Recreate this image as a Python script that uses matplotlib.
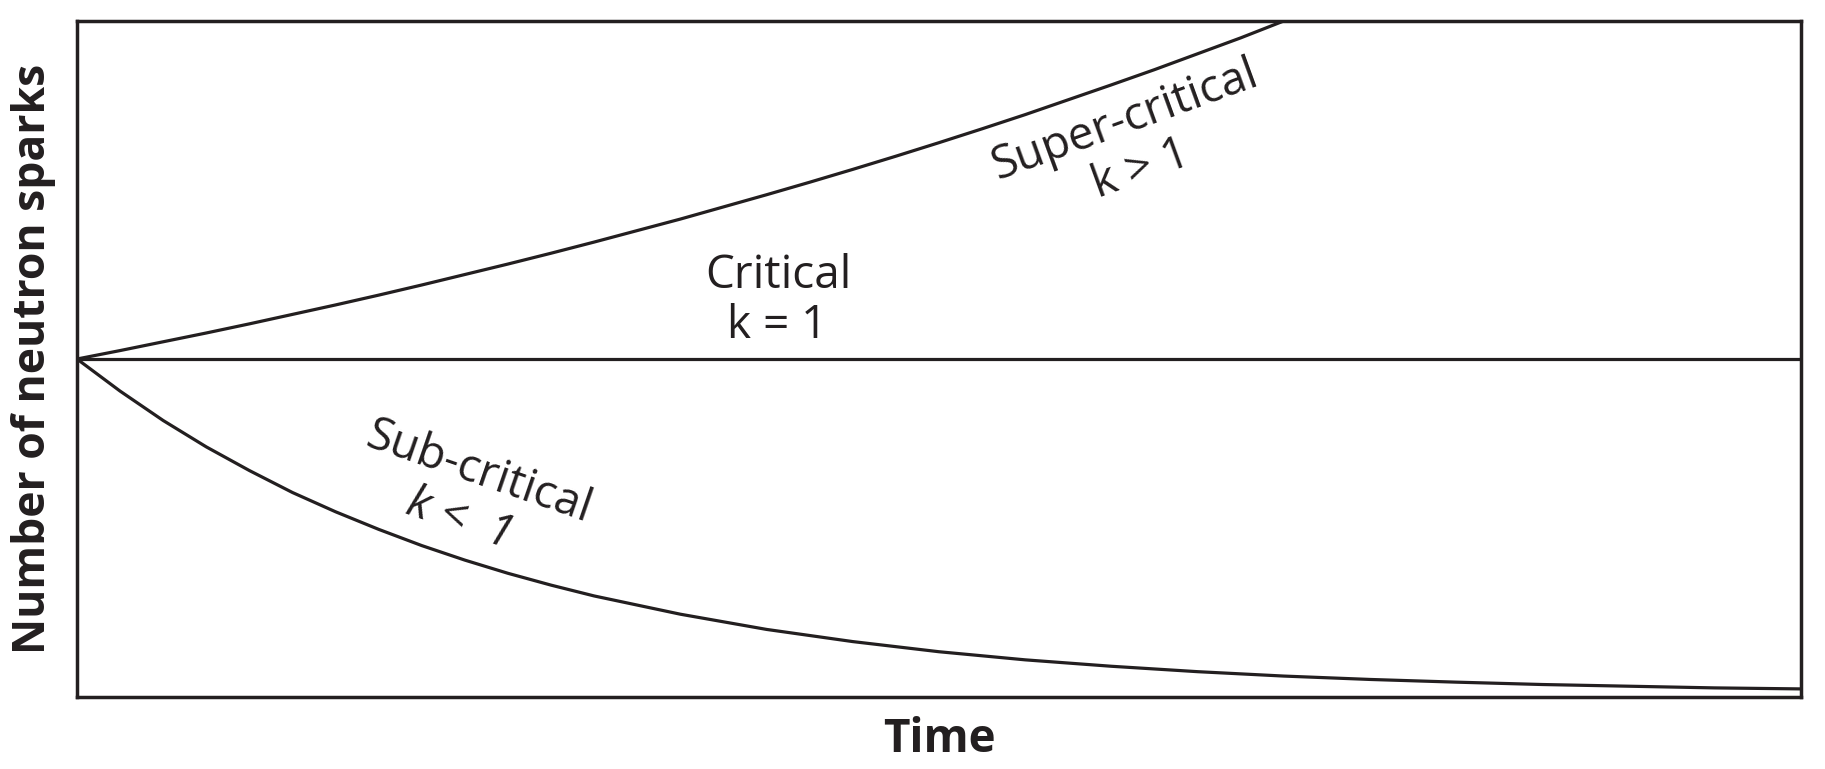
import matplotlib
matplotlib.use("Agg")
import matplotlib.pyplot as plt

# values (time in arbitrary units 0-10, count relative to start = 1)
time_super = [0, 0.25, 0.5, 0.75, 1.0, 1.25, 1.5, 1.75, 2.0, 2.25, 2.5, 2.75, 3.0,
              3.25, 3.5, 3.75, 4.0, 4.25, 4.5, 4.75, 5.0, 5.25, 5.5, 5.75, 6.0,
              6.25, 6.5, 6.75, 7.0]
n_super = [1.000, 1.025, 1.051, 1.077, 1.104, 1.132, 1.160, 1.189, 1.219, 1.250,
           1.281, 1.313, 1.346, 1.380, 1.414, 1.450, 1.486, 1.523, 1.561, 1.600,
           1.640, 1.681, 1.723, 1.767, 1.811, 1.856, 1.903, 1.950, 2.000]

time_crit = [0, 10]
n_crit = [1.0, 1.0]

time_sub = [0, 0.25, 0.5, 0.75, 1.0, 1.25, 1.5, 1.75, 2.0, 2.25, 2.5, 2.75, 3.0,
            3.5, 4.0, 4.5, 5.0, 5.5, 6.0, 6.5, 7.0, 7.5, 8.0, 8.5, 9.0, 9.5, 10.0]
n_sub = [1.000, 0.905, 0.818, 0.740, 0.670, 0.605, 0.548, 0.496, 0.448, 0.405,
         0.366, 0.331, 0.299, 0.245, 0.200, 0.164, 0.134, 0.110, 0.091, 0.075,
         0.062, 0.052, 0.044, 0.037, 0.032, 0.027, 0.024]

INK = "#231f20"
FONT = ["Open Sans", "DejaVu Sans"]

fig = plt.figure(figsize=(18.25, 7.69), dpi=100, facecolor="white")
ax = fig.add_axes([0.0422, 0.0936, 0.9446, 0.8791])

lw = 2.3
ax.plot(time_super, n_super, color=INK, lw=lw, solid_joinstyle="round")
ax.plot(time_crit, n_crit, color=INK, lw=lw)
ax.plot(time_sub, n_sub, color=INK, lw=lw, solid_joinstyle="round")

ax.set_xlim(0, 10)
ax.set_ylim(0, 2)
ax.set_xticks([]); ax.set_yticks([])
for s in ax.spines.values():
    s.set_linewidth(2.5)
    s.set_color(INK)

# curve annotations
txt = dict(color=INK, fontsize=33, family=FONT, ha="center", va="center",
           rotation_mode="anchor")
ax.text(4.07, 1.246, "Critical", **txt)
ax.text(4.06, 1.098, "k = 1", **txt)
ax.text(6.08, 1.707, "Super-critical", rotation=20, **txt)
ax.text(6.17, 1.559, "k > 1", rotation=20, **txt)
ax.text(2.33, 0.663, "Sub-critical", rotation=-19, **txt)
ax.text(2.22, 0.524, "k <  1", rotation=-19, style="italic", **txt)

ax.set_xlabel("Time", fontsize=33, fontweight="bold", family=FONT, color=INK,
              labelpad=14)
ax.set_ylabel("Number of neutron sparks", fontsize=32, fontweight="bold",
              family=FONT, color=INK, labelpad=15)

fig.savefig("out.png", dpi=100, facecolor="white")
